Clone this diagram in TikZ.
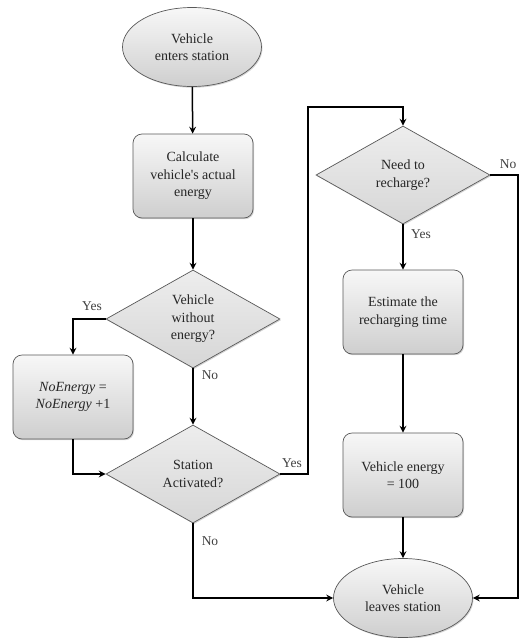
\documentclass[tikz,border=0pt]{standalone}
\usepackage{fontspec}
\setmainfont{Liberation Serif}
\newfontfamily\figserif{Liberation Serif}
\usetikzlibrary{shapes.geometric,arrows.meta,shadows}
\begin{document}
\begin{tikzpicture}[x=1pt,y=-1pt,
  base/.style={draw=black!65, line width=0.7pt, top color=gray!6, bottom color=gray!38,
    align=center, font=\figserif\fontsize{14}{17.5}\selectfont, text=black!85, inner sep=0pt,
    drop shadow={shadow xshift=1pt, shadow yshift=-1.2pt, opacity=0.35}},
  term/.style={base, ellipse, minimum width=139pt, minimum height=79pt},
  proc/.style={base, rounded corners=9pt, minimum width=120pt, minimum height=84pt},
  dec/.style={base, diamond, aspect=1.78, minimum width=174pt, minimum height=98pt,
    top color=gray!14, bottom color=gray!32},
  arr/.style={line width=1.5pt, -{Stealth[length=7pt,width=7pt,inset=2.5pt]}},
  lbl/.style={font=\figserif\fontsize{13.5}{15}\selectfont, text=black!75}
]
\path[use as bounding box] (0,0) rectangle (520,638);

\node[term] (start) at (192,47) {Vehicle\\enters station};
\node[proc] (calc) at (193,176) {Calculate\\vehicle's actual\\energy};
\node[dec] (d1) at (193,319) {Vehicle\\without\\energy?};
\node[proc] (noe) at (73,397) {\textit{NoEnergy} =\\\textit{NoEnergy} +1};
\node[dec] (d2) at (193,474) {Station\\Activated?};
\node[dec] (d3) at (403,175) {Need to\\recharge?};
\node[proc] (est) at (403,312) {Estimate the\\recharging time};
\node[proc] (ven) at (403,475) {Vehicle energy\\= 100};
\node[term] (endn) at (403,598) {Vehicle\\leaves station};

\coordinate (c1) at (308,107);
\coordinate (c3) at (518,175);

\draw[arr] (start) -- (calc);
\draw[arr] (calc) -- (d1);
\draw[arr] (d1.west) -| (noe.north);
\draw[arr] (d1.south) -- (d2.north);
\draw[arr] (noe.south) |- (d2.west);
\draw[arr] (d2.east) -| (c1) -| (d3.north);
\draw[arr] (d3.south) -- (est.north);
\draw[arr] (est) -- (ven);
\draw[arr] (ven) -- (endn);
\draw[arr] (d2.south) |- (endn.west);
\draw[arr] (d3.east) -- (c3) |- (endn.east);

\node[lbl] (l1) at (92,306) {Yes};
\node[lbl] (l2) at (210,375) {No};
\node[lbl] (l3) at (292,463) {Yes};
\node[lbl] (l4) at (210,541) {No};
\node[lbl] (l5) at (508,164) {No};
\node[lbl] (l6) at (421,234) {Yes};
\end{tikzpicture}
\end{document}
